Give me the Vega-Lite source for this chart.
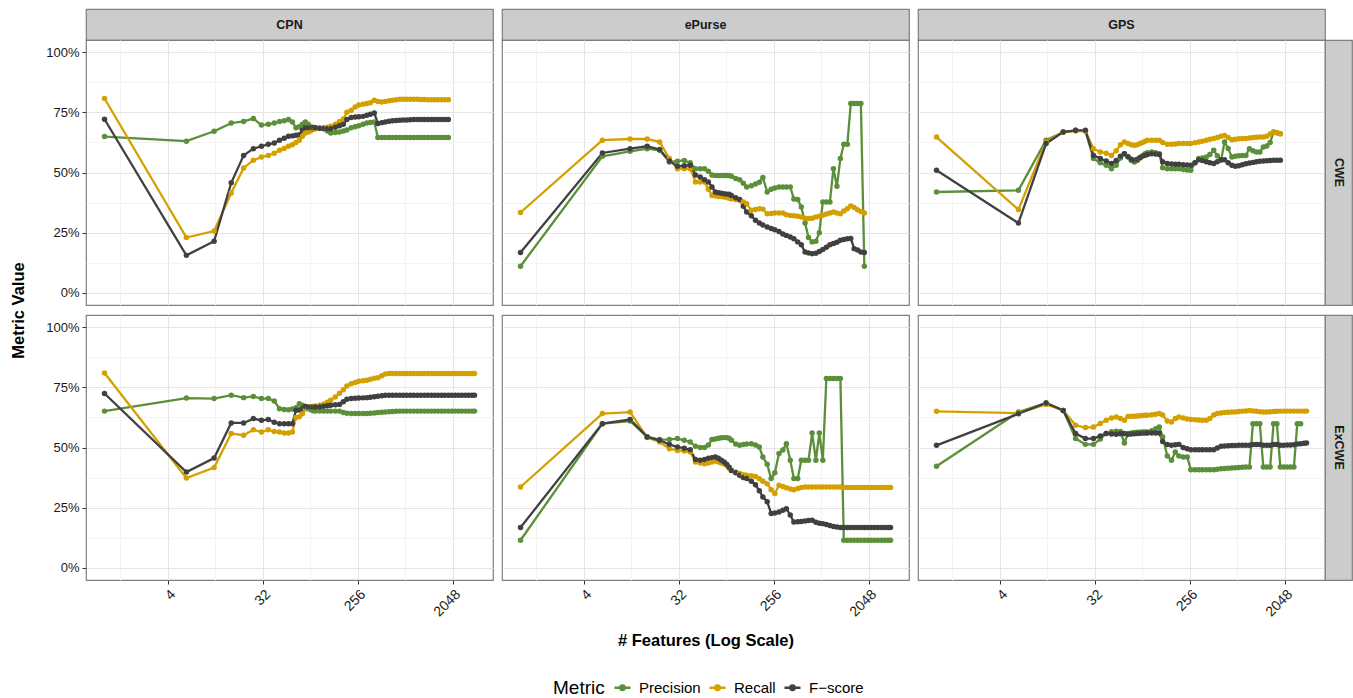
{
"$schema": "https://vega.github.io/schema/vega-lite/v6.json",
"padding": {"left": 10, "top": 8, "right": 0, "bottom": 0},
"config": {
  "font": "Liberation Sans",
  "view": {"stroke": "#7F7F7F", "strokeWidth": 1.2},
  "axis": {"domain": false, "labelFontSize": 13, "labelColor": "#1A1A1A", "tickColor": "#333333", "tickSize": 4, "tickWidth": 1, "labelPadding": 3, "titleFontSize": 16.5, "titleFontWeight": "bold", "titleColor": "#000000", "gridWidth": 1},
  "legend": {"direction": "horizontal", "titleOrient": "left", "titleFontSize": 19, "titleFontWeight": "normal", "titleColor": "#000000", "labelFontSize": 15, "labelColor": "#000000", "symbolType": "M-1.6,0L1.6,0M-0.45,0A0.45,0.45,0,1,1,0.45,0A0.45,0.45,0,1,1,-0.45,0", "symbolSize": 100, "symbolStrokeWidth": 2.3, "columnPadding": 3, "labelOffset": 9, "titlePadding": 10}
},
"datasets": {
"CPN_CWE": [
{"x":1,"P":0.649,"R":0.807,"F":0.721},{"x":6,"P":0.63,"R":0.23,"F":0.156},{"x":11,"P":0.671,"R":0.257,"F":0.215},{"x":16,"P":0.705,"R":0.415,"F":0.457},{"x":21,"P":0.712,"R":0.519,"F":0.571},{"x":26,"P":0.724,"R":0.551,"F":0.599},{"x":31,"P":0.697,"R":0.564,"F":0.609},{"x":36,"P":0.70,"R":0.571,"F":0.617},{"x":41,"P":0.705,"R":0.58,"F":0.622},{"x":46,"P":0.712,"R":0.592,"F":0.634},{"x":51,"P":0.715,"R":0.60,"F":0.642},{"x":56,"P":0.72,"R":0.609,"F":0.65},{"x":61,"P":0.71,"R":0.615,"F":0.652},{"x":66,"P":0.686,"R":0.625,"F":0.655},{"x":71,"P":0.69,"R":0.634,"F":0.657},{"x":76,"P":0.70,"R":0.65,"F":0.675},{"x":81,"P":0.71,"R":0.664,"F":0.686},{"x":86,"P":0.70,"R":0.668,"F":0.686},{"x":91,"P":0.69,"R":0.672,"F":0.686},{"x":96,"P":0.688,"R":0.68,"F":0.686},{"x":101,"P":0.686,"R":0.682,"F":0.686},{"x":111,"P":0.684,"R":0.684,"F":0.684},{"x":121,"P":0.682,"R":0.686,"F":0.683},{"x":131,"P":0.672,"R":0.688,"F":0.682},{"x":141,"P":0.664,"R":0.692,"F":0.682},{"x":156,"P":0.666,"R":0.70,"F":0.688},{"x":171,"P":0.668,"R":0.712,"F":0.694},{"x":186,"P":0.672,"R":0.722,"F":0.70},{"x":201,"P":0.676,"R":0.75,"F":0.72},{"x":221,"P":0.686,"R":0.758,"F":0.728},{"x":241,"P":0.69,"R":0.772,"F":0.73},{"x":261,"P":0.694,"R":0.78,"F":0.731},{"x":286,"P":0.70,"R":0.783,"F":0.733},{"x":311,"P":0.705,"R":0.786,"F":0.738},{"x":336,"P":0.708,"R":0.79,"F":0.742},{"x":366,"P":0.71,"R":0.80,"F":0.747},{"x":396,"P":0.645,"R":0.795,"F":0.703},{"x":431,"P":0.645,"R":0.793,"F":0.707},{"x":466,"P":0.645,"R":0.795,"F":0.71},{"x":506,"P":0.645,"R":0.798,"F":0.713},{"x":546,"P":0.645,"R":0.80,"F":0.715},{"x":591,"P":0.645,"R":0.802,"F":0.716},{"x":641,"P":0.645,"R":0.804,"F":0.717},{"x":691,"P":0.645,"R":0.804,"F":0.718},{"x":746,"P":0.645,"R":0.804,"F":0.718},{"x":806,"P":0.645,"R":0.804,"F":0.719},{"x":871,"P":0.645,"R":0.804,"F":0.72},{"x":941,"P":0.645,"R":0.804,"F":0.72},{"x":1016,"P":0.645,"R":0.803,"F":0.72},{"x":1096,"P":0.645,"R":0.803,"F":0.72},{"x":1181,"P":0.645,"R":0.802,"F":0.72},{"x":1276,"P":0.645,"R":0.802,"F":0.72},{"x":1376,"P":0.645,"R":0.802,"F":0.72},{"x":1481,"P":0.645,"R":0.802,"F":0.72},{"x":1596,"P":0.645,"R":0.802,"F":0.72},{"x":1716,"P":0.645,"R":0.802,"F":0.72},{"x":1851,"P":0.645,"R":0.802,"F":0.72}
],
"ePurse_CWE": [
{"x":1,"P":0.111,"R":0.334,"F":0.168},{"x":6,"P":0.567,"R":0.634,"F":0.581},{"x":11,"P":0.588,"R":0.639,"F":0.599},{"x":16,"P":0.599,"R":0.639,"F":0.609},{"x":21,"P":0.592,"R":0.627,"F":0.595},{"x":26,"P":0.544,"R":0.558,"F":0.548},{"x":31,"P":0.547,"R":0.516,"F":0.526},{"x":36,"P":0.55,"R":0.516,"F":0.528},{"x":41,"P":0.54,"R":0.516,"F":0.53},{"x":46,"P":0.516,"R":0.461,"F":0.49},{"x":51,"P":0.516,"R":0.461,"F":0.481},{"x":56,"P":0.516,"R":0.461,"F":0.47},{"x":61,"P":0.505,"R":0.43,"F":0.461},{"x":66,"P":0.49,"R":0.405,"F":0.44},{"x":71,"P":0.488,"R":0.403,"F":0.419},{"x":76,"P":0.488,"R":0.40,"F":0.416},{"x":81,"P":0.488,"R":0.40,"F":0.414},{"x":86,"P":0.488,"R":0.398,"F":0.412},{"x":91,"P":0.488,"R":0.396,"F":0.41},{"x":96,"P":0.488,"R":0.393,"F":0.41},{"x":101,"P":0.484,"R":0.39,"F":0.405},{"x":111,"P":0.475,"R":0.388,"F":0.395},{"x":121,"P":0.47,"R":0.385,"F":0.388},{"x":131,"P":0.455,"R":0.378,"F":0.36},{"x":141,"P":0.44,"R":0.37,"F":0.336},{"x":156,"P":0.445,"R":0.343,"F":0.32},{"x":171,"P":0.452,"R":0.346,"F":0.302},{"x":186,"P":0.46,"R":0.35,"F":0.29},{"x":201,"P":0.479,"R":0.348,"F":0.282},{"x":221,"P":0.419,"R":0.329,"F":0.274},{"x":241,"P":0.43,"R":0.33,"F":0.268},{"x":261,"P":0.436,"R":0.332,"F":0.262},{"x":286,"P":0.44,"R":0.332,"F":0.255},{"x":311,"P":0.44,"R":0.332,"F":0.245},{"x":336,"P":0.44,"R":0.325,"F":0.239},{"x":366,"P":0.44,"R":0.322,"F":0.232},{"x":396,"P":0.39,"R":0.32,"F":0.225},{"x":431,"P":0.388,"R":0.318,"F":0.212},{"x":466,"P":0.357,"R":0.315,"F":0.20},{"x":506,"P":0.29,"R":0.31,"F":0.17},{"x":546,"P":0.23,"R":0.309,"F":0.166},{"x":591,"P":0.212,"R":0.31,"F":0.163},{"x":641,"P":0.215,"R":0.315,"F":0.165},{"x":691,"P":0.25,"R":0.318,"F":0.172},{"x":746,"P":0.378,"R":0.323,"F":0.18},{"x":806,"P":0.378,"R":0.328,"F":0.19},{"x":871,"P":0.378,"R":0.332,"F":0.20},{"x":941,"P":0.516,"R":0.336,"F":0.205},{"x":1016,"P":0.443,"R":0.332,"F":0.21},{"x":1096,"P":0.558,"R":0.329,"F":0.219},{"x":1181,"P":0.617,"R":0.34,"F":0.222},{"x":1276,"P":0.617,"R":0.35,"F":0.225},{"x":1376,"P":0.786,"R":0.361,"F":0.226},{"x":1481,"P":0.786,"R":0.355,"F":0.184},{"x":1596,"P":0.786,"R":0.345,"F":0.178},{"x":1716,"P":0.786,"R":0.338,"F":0.17},{"x":1851,"P":0.111,"R":0.332,"F":0.168}
],
"GPS_CWE": [
{"x":1,"P":0.419,"R":0.647,"F":0.509},{"x":6,"P":0.426,"R":0.346,"F":0.29},{"x":11,"P":0.634,"R":0.627,"F":0.62},{"x":16,"P":0.668,"R":0.668,"F":0.668},{"x":21,"P":0.675,"R":0.672,"F":0.675},{"x":26,"P":0.672,"R":0.672,"F":0.675},{"x":31,"P":0.558,"R":0.599,"F":0.571},{"x":36,"P":0.54,"R":0.585,"F":0.558},{"x":41,"P":0.53,"R":0.58,"F":0.548},{"x":46,"P":0.516,"R":0.571,"F":0.537},{"x":51,"P":0.53,"R":0.59,"F":0.55},{"x":56,"P":0.56,"R":0.615,"F":0.568},{"x":61,"P":0.578,"R":0.627,"F":0.578},{"x":66,"P":0.565,"R":0.62,"F":0.565},{"x":71,"P":0.55,"R":0.615,"F":0.555},{"x":76,"P":0.544,"R":0.613,"F":0.551},{"x":81,"P":0.55,"R":0.615,"F":0.555},{"x":86,"P":0.56,"R":0.62,"F":0.562},{"x":91,"P":0.57,"R":0.625,"F":0.568},{"x":96,"P":0.578,"R":0.63,"F":0.572},{"x":101,"P":0.582,"R":0.634,"F":0.575},{"x":111,"P":0.585,"R":0.634,"F":0.578},{"x":121,"P":0.582,"R":0.634,"F":0.577},{"x":131,"P":0.578,"R":0.634,"F":0.575},{"x":141,"P":0.52,"R":0.625,"F":0.545},{"x":156,"P":0.516,"R":0.617,"F":0.537},{"x":171,"P":0.516,"R":0.617,"F":0.535},{"x":186,"P":0.516,"R":0.618,"F":0.534},{"x":201,"P":0.516,"R":0.62,"F":0.534},{"x":221,"P":0.512,"R":0.62,"F":0.532},{"x":241,"P":0.51,"R":0.62,"F":0.531},{"x":261,"P":0.509,"R":0.62,"F":0.53},{"x":286,"P":0.54,"R":0.624,"F":0.54},{"x":311,"P":0.558,"R":0.627,"F":0.553},{"x":336,"P":0.56,"R":0.63,"F":0.55},{"x":366,"P":0.564,"R":0.634,"F":0.545},{"x":396,"P":0.575,"R":0.638,"F":0.54},{"x":431,"P":0.592,"R":0.641,"F":0.537},{"x":466,"P":0.57,"R":0.645,"F":0.545},{"x":506,"P":0.551,"R":0.65,"F":0.553},{"x":546,"P":0.627,"R":0.654,"F":0.553},{"x":591,"P":0.60,"R":0.645,"F":0.54},{"x":641,"P":0.564,"R":0.636,"F":0.53},{"x":691,"P":0.567,"R":0.638,"F":0.526},{"x":746,"P":0.57,"R":0.64,"F":0.528},{"x":806,"P":0.571,"R":0.641,"F":0.532},{"x":871,"P":0.571,"R":0.641,"F":0.536},{"x":941,"P":0.599,"R":0.643,"F":0.539},{"x":1016,"P":0.59,"R":0.645,"F":0.542},{"x":1096,"P":0.585,"R":0.646,"F":0.545},{"x":1181,"P":0.585,"R":0.647,"F":0.547},{"x":1276,"P":0.606,"R":0.647,"F":0.548},{"x":1376,"P":0.61,"R":0.65,"F":0.549},{"x":1481,"P":0.625,"R":0.66,"F":0.55},{"x":1596,"P":0.668,"R":0.668,"F":0.551},{"x":1716,"P":0.665,"R":0.665,"F":0.551},{"x":1851,"P":0.661,"R":0.661,"F":0.551}
],
"CPN_ExCWE": [
{"x":1,"P":0.651,"R":0.809,"F":0.724},{"x":6,"P":0.705,"R":0.373,"F":0.398},{"x":11,"P":0.703,"R":0.417,"F":0.456},{"x":16,"P":0.717,"R":0.558,"F":0.602},{"x":21,"P":0.707,"R":0.551,"F":0.602},{"x":26,"P":0.712,"R":0.574,"F":0.62},{"x":31,"P":0.703,"R":0.564,"F":0.613},{"x":36,"P":0.703,"R":0.574,"F":0.616},{"x":41,"P":0.693,"R":0.566,"F":0.605},{"x":46,"P":0.661,"R":0.564,"F":0.599},{"x":51,"P":0.658,"R":0.56,"F":0.599},{"x":56,"P":0.657,"R":0.56,"F":0.599},{"x":61,"P":0.66,"R":0.564,"F":0.599},{"x":66,"P":0.665,"R":0.625,"F":0.655},{"x":71,"P":0.682,"R":0.628,"F":0.656},{"x":76,"P":0.675,"R":0.64,"F":0.662},{"x":81,"P":0.668,"R":0.66,"F":0.67},{"x":86,"P":0.662,"R":0.665,"F":0.668},{"x":91,"P":0.657,"R":0.668,"F":0.668},{"x":96,"P":0.653,"R":0.67,"F":0.668},{"x":101,"P":0.651,"R":0.672,"F":0.668},{"x":111,"P":0.651,"R":0.675,"F":0.668},{"x":121,"P":0.651,"R":0.68,"F":0.671},{"x":131,"P":0.651,"R":0.688,"F":0.673},{"x":141,"P":0.651,"R":0.696,"F":0.675},{"x":156,"P":0.651,"R":0.71,"F":0.677},{"x":171,"P":0.651,"R":0.725,"F":0.679},{"x":186,"P":0.645,"R":0.74,"F":0.69},{"x":201,"P":0.642,"R":0.755,"F":0.70},{"x":221,"P":0.641,"R":0.765,"F":0.703},{"x":241,"P":0.641,"R":0.77,"F":0.704},{"x":261,"P":0.641,"R":0.775,"F":0.705},{"x":286,"P":0.641,"R":0.777,"F":0.706},{"x":311,"P":0.641,"R":0.779,"F":0.707},{"x":336,"P":0.642,"R":0.783,"F":0.709},{"x":366,"P":0.643,"R":0.787,"F":0.711},{"x":396,"P":0.645,"R":0.79,"F":0.713},{"x":431,"P":0.646,"R":0.798,"F":0.715},{"x":466,"P":0.647,"R":0.805,"F":0.717},{"x":506,"P":0.648,"R":0.807,"F":0.717},{"x":546,"P":0.649,"R":0.807,"F":0.717},{"x":591,"P":0.65,"R":0.807,"F":0.717},{"x":641,"P":0.651,"R":0.807,"F":0.717},{"x":691,"P":0.651,"R":0.807,"F":0.717},{"x":746,"P":0.651,"R":0.807,"F":0.717},{"x":806,"P":0.651,"R":0.807,"F":0.717},{"x":871,"P":0.651,"R":0.807,"F":0.717},{"x":941,"P":0.651,"R":0.807,"F":0.717},{"x":1016,"P":0.651,"R":0.807,"F":0.717},{"x":1096,"P":0.651,"R":0.807,"F":0.717},{"x":1181,"P":0.651,"R":0.807,"F":0.717},{"x":1276,"P":0.651,"R":0.807,"F":0.717},{"x":1376,"P":0.651,"R":0.807,"F":0.717},{"x":1481,"P":0.651,"R":0.807,"F":0.717},{"x":1596,"P":0.651,"R":0.807,"F":0.717},{"x":1716,"P":0.651,"R":0.807,"F":0.717},{"x":1851,"P":0.651,"R":0.807,"F":0.717},{"x":1991,"P":0.651,"R":0.807,"F":0.717},{"x":2146,"P":0.651,"R":0.807,"F":0.717},{"x":2311,"P":0.651,"R":0.807,"F":0.717},{"x":2491,"P":0.651,"R":0.807,"F":0.717},{"x":2681,"P":0.651,"R":0.807,"F":0.717},{"x":2886,"P":0.651,"R":0.807,"F":0.717},{"x":3106,"P":0.651,"R":0.807,"F":0.717},{"x":3281,"P":0.651,"R":0.807,"F":0.717}
],
"ePurse_ExCWE": [
{"x":1,"P":0.115,"R":0.336,"F":0.168},{"x":6,"P":0.599,"R":0.641,"F":0.599},{"x":11,"P":0.61,"R":0.647,"F":0.616},{"x":16,"P":0.544,"R":0.541,"F":0.544},{"x":21,"P":0.533,"R":0.523,"F":0.53},{"x":26,"P":0.533,"R":0.495,"F":0.513},{"x":31,"P":0.537,"R":0.488,"F":0.502},{"x":36,"P":0.53,"R":0.485,"F":0.497},{"x":41,"P":0.523,"R":0.481,"F":0.491},{"x":46,"P":0.505,"R":0.44,"F":0.45},{"x":51,"P":0.50,"R":0.436,"F":0.447},{"x":56,"P":0.50,"R":0.433,"F":0.45},{"x":61,"P":0.51,"R":0.436,"F":0.455},{"x":66,"P":0.533,"R":0.44,"F":0.458},{"x":71,"P":0.535,"R":0.444,"F":0.461},{"x":76,"P":0.538,"R":0.44,"F":0.455},{"x":81,"P":0.54,"R":0.436,"F":0.447},{"x":86,"P":0.541,"R":0.433,"F":0.44},{"x":91,"P":0.541,"R":0.425,"F":0.43},{"x":96,"P":0.538,"R":0.415,"F":0.418},{"x":101,"P":0.53,"R":0.405,"F":0.405},{"x":111,"P":0.515,"R":0.398,"F":0.395},{"x":121,"P":0.509,"R":0.392,"F":0.385},{"x":131,"P":0.512,"R":0.387,"F":0.375},{"x":141,"P":0.515,"R":0.385,"F":0.371},{"x":156,"P":0.516,"R":0.383,"F":0.36},{"x":171,"P":0.51,"R":0.38,"F":0.345},{"x":186,"P":0.502,"R":0.37,"F":0.32},{"x":201,"P":0.461,"R":0.36,"F":0.295},{"x":221,"P":0.43,"R":0.35,"F":0.275},{"x":241,"P":0.371,"R":0.325,"F":0.226},{"x":261,"P":0.395,"R":0.309,"F":0.228},{"x":286,"P":0.475,"R":0.343,"F":0.232},{"x":311,"P":0.49,"R":0.338,"F":0.24},{"x":336,"P":0.516,"R":0.333,"F":0.246},{"x":366,"P":0.447,"R":0.328,"F":0.22},{"x":396,"P":0.371,"R":0.325,"F":0.191},{"x":431,"P":0.371,"R":0.33,"F":0.192},{"x":466,"P":0.447,"R":0.334,"F":0.193},{"x":506,"P":0.447,"R":0.336,"F":0.195},{"x":546,"P":0.447,"R":0.336,"F":0.197},{"x":591,"P":0.56,"R":0.336,"F":0.198},{"x":641,"P":0.447,"R":0.336,"F":0.19},{"x":691,"P":0.56,"R":0.336,"F":0.186},{"x":746,"P":0.447,"R":0.336,"F":0.184},{"x":806,"P":0.786,"R":0.336,"F":0.18},{"x":871,"P":0.786,"R":0.336,"F":0.176},{"x":941,"P":0.786,"R":0.336,"F":0.172},{"x":1016,"P":0.786,"R":0.336,"F":0.17},{"x":1096,"P":0.786,"R":0.336,"F":0.168},{"x":1181,"P":0.115,"R":0.334,"F":0.168},{"x":1276,"P":0.115,"R":0.334,"F":0.168},{"x":1376,"P":0.115,"R":0.334,"F":0.168},{"x":1481,"P":0.115,"R":0.334,"F":0.168},{"x":1596,"P":0.115,"R":0.334,"F":0.168},{"x":1716,"P":0.115,"R":0.334,"F":0.168},{"x":1851,"P":0.115,"R":0.334,"F":0.168},{"x":1991,"P":0.115,"R":0.334,"F":0.168},{"x":2146,"P":0.115,"R":0.334,"F":0.168},{"x":2311,"P":0.115,"R":0.334,"F":0.168},{"x":2491,"P":0.115,"R":0.334,"F":0.168},{"x":2681,"P":0.115,"R":0.334,"F":0.168},{"x":2886,"P":0.115,"R":0.334,"F":0.168},{"x":3106,"P":0.115,"R":0.334,"F":0.168},{"x":3281,"P":0.115,"R":0.334,"F":0.168}
],
"GPS_ExCWE": [
{"x":1,"P":0.422,"R":0.65,"F":0.509},{"x":6,"P":0.647,"R":0.643,"F":0.64},{"x":11,"P":0.685,"R":0.679,"F":0.685},{"x":16,"P":0.654,"R":0.654,"F":0.654},{"x":21,"P":0.537,"R":0.592,"F":0.558},{"x":26,"P":0.513,"R":0.583,"F":0.537},{"x":31,"P":0.513,"R":0.585,"F":0.537},{"x":36,"P":0.535,"R":0.60,"F":0.548},{"x":41,"P":0.558,"R":0.613,"F":0.558},{"x":46,"P":0.565,"R":0.622,"F":0.556},{"x":51,"P":0.568,"R":0.627,"F":0.555},{"x":56,"P":0.566,"R":0.62,"F":0.557},{"x":61,"P":0.519,"R":0.613,"F":0.558},{"x":66,"P":0.558,"R":0.629,"F":0.555},{"x":71,"P":0.56,"R":0.63,"F":0.556},{"x":76,"P":0.562,"R":0.63,"F":0.557},{"x":81,"P":0.563,"R":0.631,"F":0.558},{"x":86,"P":0.563,"R":0.632,"F":0.559},{"x":91,"P":0.564,"R":0.633,"F":0.56},{"x":96,"P":0.564,"R":0.634,"F":0.56},{"x":101,"P":0.564,"R":0.634,"F":0.56},{"x":111,"P":0.57,"R":0.636,"F":0.56},{"x":121,"P":0.578,"R":0.638,"F":0.56},{"x":131,"P":0.585,"R":0.641,"F":0.56},{"x":141,"P":0.544,"R":0.635,"F":0.525},{"x":156,"P":0.465,"R":0.61,"F":0.512},{"x":171,"P":0.447,"R":0.606,"F":0.509},{"x":186,"P":0.481,"R":0.62,"F":0.511},{"x":201,"P":0.465,"R":0.627,"F":0.513},{"x":221,"P":0.461,"R":0.622,"F":0.50},{"x":241,"P":0.461,"R":0.618,"F":0.495},{"x":261,"P":0.408,"R":0.616,"F":0.491},{"x":286,"P":0.408,"R":0.615,"F":0.491},{"x":311,"P":0.408,"R":0.614,"F":0.491},{"x":336,"P":0.408,"R":0.613,"F":0.491},{"x":366,"P":0.408,"R":0.613,"F":0.491},{"x":396,"P":0.408,"R":0.62,"F":0.491},{"x":431,"P":0.408,"R":0.635,"F":0.491},{"x":466,"P":0.41,"R":0.641,"F":0.498},{"x":506,"P":0.412,"R":0.643,"F":0.505},{"x":546,"P":0.413,"R":0.645,"F":0.506},{"x":591,"P":0.414,"R":0.646,"F":0.507},{"x":641,"P":0.415,"R":0.647,"F":0.508},{"x":691,"P":0.416,"R":0.647,"F":0.508},{"x":746,"P":0.417,"R":0.649,"F":0.509},{"x":806,"P":0.418,"R":0.651,"F":0.509},{"x":871,"P":0.419,"R":0.652,"F":0.509},{"x":941,"P":0.419,"R":0.654,"F":0.509},{"x":1016,"P":0.599,"R":0.652,"F":0.512},{"x":1096,"P":0.599,"R":0.65,"F":0.512},{"x":1181,"P":0.599,"R":0.648,"F":0.512},{"x":1276,"P":0.419,"R":0.647,"F":0.509},{"x":1376,"P":0.419,"R":0.647,"F":0.509},{"x":1481,"P":0.419,"R":0.648,"F":0.509},{"x":1596,"P":0.599,"R":0.649,"F":0.512},{"x":1716,"P":0.599,"R":0.65,"F":0.512},{"x":1851,"P":0.419,"R":0.651,"F":0.509},{"x":1991,"P":0.419,"R":0.651,"F":0.509},{"x":2146,"P":0.419,"R":0.651,"F":0.51},{"x":2311,"P":0.419,"R":0.651,"F":0.51},{"x":2491,"P":0.419,"R":0.651,"F":0.511},{"x":2681,"P":0.599,"R":0.651,"F":0.515},{"x":2886,"P":0.599,"R":0.651,"F":0.516},{"x":3106,"R":0.651,"F":0.518},{"x":3281,"R":0.651,"F":0.519}
]
},
"columns": 6,
"align": "each",
"bounds": "flush",
"spacing": 0,
"concat": [
 {"data": {"values": [{"t": "CPN"}]}, "width": 407, "height": 31, "view": {"fill": "#CCCCCC", "stroke": "#7F7F7F", "strokeWidth": 1.2}, "mark": {"type": "text", "fontSize": 12.5, "fontWeight": "bold", "color": "#1A1A1A"}, "encoding": {"text": {"field": "t"}}},
 {"data": {"values": [{"t": ""}]}, "width": 9, "height": 10, "view": {"stroke": null, "fill": null}, "mark": {"type": "text"}, "encoding": {"text": {"field": "t"}}},
 {"data": {"values": [{"t": "ePurse"}]}, "width": 407, "height": 31, "view": {"fill": "#CCCCCC", "stroke": "#7F7F7F", "strokeWidth": 1.2}, "mark": {"type": "text", "fontSize": 12.5, "fontWeight": "bold", "color": "#1A1A1A"}, "encoding": {"text": {"field": "t"}}},
 {"data": {"values": [{"t": ""}]}, "width": 9, "height": 10, "view": {"stroke": null, "fill": null}, "mark": {"type": "text"}, "encoding": {"text": {"field": "t"}}},
 {"data": {"values": [{"t": "GPS"}]}, "width": 407, "height": 31, "view": {"fill": "#CCCCCC", "stroke": "#7F7F7F", "strokeWidth": 1.2}, "mark": {"type": "text", "fontSize": 12.5, "fontWeight": "bold", "color": "#1A1A1A"}, "encoding": {"text": {"field": "t"}}},
 {"data": {"values": [{"t": ""}]}, "width": 9, "height": 10, "view": {"stroke": null, "fill": null}, "mark": {"type": "text"}, "encoding": {"text": {"field": "t"}}},

 {"data": {"name": "CPN_CWE"}, "width": 407, "height": 265, "transform": [{"fold": ["P","R","F"], "as": ["m","v"]}],
  "mark": {"type": "line", "strokeWidth": 2.3, "point": {"filled": true, "size": 30, "opacity": 1}},
  "encoding": {
    "x": {"field": "x", "type": "quantitative", "scale": {"type": "log", "base": 2, "domain": [0.667, 4918], "nice": false}, "axis": {"values": [1.41421356, 4, 11.3137085, 32, 90.50966799, 256, 724.07734394, 2048], "labels": false, "ticks": false, "title": null, "gridColor": {"condition": {"test": "indexof([4,32,256,2048], datum.value) >= 0", "value": "#E5E5E5"}, "value": "#F3F3F3"}}},
    "y": {"field": "v", "type": "quantitative", "scale": {"domain": [-0.05, 1.05], "nice": false, "zero": false}, "axis": {"values": [0,0.125,0.25,0.375,0.5,0.625,0.75,0.875,1], "format": ".0%", "labelExpr": "(datum.value*4)%1==0 ? datum.label : ''", "labelOverlap": false, "labelFlush": false, "tickOpacity": {"condition": {"test": "(datum.value*4)%1==0", "value": 1}, "value": 0}, "gridColor": {"condition": {"test": "(datum.value*4)%1==0", "value": "#E5E5E5"}, "value": "#F3F3F3"}, "title": "Metric Value", "titleY": 270, "titlePadding": 19}},
    "color": {"field": "m", "type": "nominal", "title": "Metric", "scale": {"domain": ["P","R","F"], "range": ["#5B8F3A","#D4A000","#404040"]}, "legend": {"orient": "none", "legendX": 467, "legendY": 671, "labelExpr": "datum.label=='P' ? 'Precision' : datum.label=='R' ? 'Recall' : 'F−score'"}}
  }},
 {"data": {"values": [{"t": ""}]}, "width": 9, "height": 10, "view": {"stroke": null, "fill": null}, "mark": {"type": "text"}, "encoding": {"text": {"field": "t"}}},
 {"data": {"name": "ePurse_CWE"}, "width": 407, "height": 265, "transform": [{"fold": ["P","R","F"], "as": ["m","v"]}],
  "mark": {"type": "line", "strokeWidth": 2.3, "point": {"filled": true, "size": 30, "opacity": 1}},
  "encoding": {
    "x": {"field": "x", "type": "quantitative", "scale": {"type": "log", "base": 2, "domain": [0.667, 4918], "nice": false}, "axis": {"values": [1.41421356, 4, 11.3137085, 32, 90.50966799, 256, 724.07734394, 2048], "labels": false, "ticks": false, "title": null, "gridColor": {"condition": {"test": "indexof([4,32,256,2048], datum.value) >= 0", "value": "#E5E5E5"}, "value": "#F3F3F3"}}},
    "y": {"field": "v", "type": "quantitative", "scale": {"domain": [-0.05, 1.05], "nice": false, "zero": false}, "axis": {"values": [0,0.125,0.25,0.375,0.5,0.625,0.75,0.875,1], "labels": false, "ticks": false, "title": null, "gridColor": {"condition": {"test": "(datum.value*4)%1==0", "value": "#E5E5E5"}, "value": "#F3F3F3"}}},
    "color": {"field": "m", "type": "nominal", "title": "Metric", "scale": {"domain": ["P","R","F"], "range": ["#5B8F3A","#D4A000","#404040"]}, "legend": {"orient": "none", "legendX": 467, "legendY": 671, "labelExpr": "datum.label=='P' ? 'Precision' : datum.label=='R' ? 'Recall' : 'F−score'"}}
  }},
 {"data": {"values": [{"t": ""}]}, "width": 9, "height": 10, "view": {"stroke": null, "fill": null}, "mark": {"type": "text"}, "encoding": {"text": {"field": "t"}}},
 {"data": {"name": "GPS_CWE"}, "width": 407, "height": 265, "transform": [{"fold": ["P","R","F"], "as": ["m","v"]}],
  "mark": {"type": "line", "strokeWidth": 2.3, "point": {"filled": true, "size": 30, "opacity": 1}},
  "encoding": {
    "x": {"field": "x", "type": "quantitative", "scale": {"type": "log", "base": 2, "domain": [0.667, 4918], "nice": false}, "axis": {"values": [1.41421356, 4, 11.3137085, 32, 90.50966799, 256, 724.07734394, 2048], "labels": false, "ticks": false, "title": null, "gridColor": {"condition": {"test": "indexof([4,32,256,2048], datum.value) >= 0", "value": "#E5E5E5"}, "value": "#F3F3F3"}}},
    "y": {"field": "v", "type": "quantitative", "scale": {"domain": [-0.05, 1.05], "nice": false, "zero": false}, "axis": {"values": [0,0.125,0.25,0.375,0.5,0.625,0.75,0.875,1], "labels": false, "ticks": false, "title": null, "gridColor": {"condition": {"test": "(datum.value*4)%1==0", "value": "#E5E5E5"}, "value": "#F3F3F3"}}},
    "color": {"field": "m", "type": "nominal", "title": "Metric", "scale": {"domain": ["P","R","F"], "range": ["#5B8F3A","#D4A000","#404040"]}, "legend": {"orient": "none", "legendX": 467, "legendY": 671, "labelExpr": "datum.label=='P' ? 'Precision' : datum.label=='R' ? 'Recall' : 'F−score'"}}
  }},
 {"data": {"values": [{"t": "CWE"}]}, "width": 27, "height": 265, "view": {"fill": "#CCCCCC", "stroke": "#7F7F7F", "strokeWidth": 1.2}, "mark": {"type": "text", "fontSize": 12.5, "fontWeight": "bold", "color": "#1A1A1A", "angle": 90}, "encoding": {"text": {"field": "t"}}},

 {"data": {"values": [{"t": ""}]}, "width": 9, "height": 10, "view": {"stroke": null, "fill": null}, "mark": {"type": "text"}, "encoding": {"text": {"field": "t"}}},
 {"data": {"values": [{"t": ""}]}, "width": 9, "height": 10, "view": {"stroke": null, "fill": null}, "mark": {"type": "text"}, "encoding": {"text": {"field": "t"}}},
 {"data": {"values": [{"t": ""}]}, "width": 9, "height": 10, "view": {"stroke": null, "fill": null}, "mark": {"type": "text"}, "encoding": {"text": {"field": "t"}}},
 {"data": {"values": [{"t": ""}]}, "width": 9, "height": 10, "view": {"stroke": null, "fill": null}, "mark": {"type": "text"}, "encoding": {"text": {"field": "t"}}},
 {"data": {"values": [{"t": ""}]}, "width": 9, "height": 10, "view": {"stroke": null, "fill": null}, "mark": {"type": "text"}, "encoding": {"text": {"field": "t"}}},
 {"data": {"values": [{"t": ""}]}, "width": 9, "height": 10, "view": {"stroke": null, "fill": null}, "mark": {"type": "text"}, "encoding": {"text": {"field": "t"}}},

 {"data": {"name": "CPN_ExCWE"}, "width": 407, "height": 265, "transform": [{"fold": ["P","R","F"], "as": ["m","v"]}],
  "mark": {"type": "line", "strokeWidth": 2.3, "point": {"filled": true, "size": 30, "opacity": 1}},
  "encoding": {
    "x": {"field": "x", "type": "quantitative", "scale": {"type": "log", "base": 2, "domain": [0.667, 4918], "nice": false}, "axis": {"values": [1.41421356, 4, 11.3137085, 32, 90.50966799, 256, 724.07734394, 2048], "format": "d", "labelExpr": "indexof([4,32,256,2048], datum.value) >= 0 ? datum.label : ''", "labelAngle": -45, "labelFontSize": 14, "labelOverlap": false, "labelFlush": false, "tickOpacity": {"condition": {"test": "indexof([4,32,256,2048], datum.value) >= 0", "value": 1}, "value": 0}, "title": null, "gridColor": {"condition": {"test": "indexof([4,32,256,2048], datum.value) >= 0", "value": "#E5E5E5"}, "value": "#F3F3F3"}}},
    "y": {"field": "v", "type": "quantitative", "scale": {"domain": [-0.05, 1.05], "nice": false, "zero": false}, "axis": {"values": [0,0.125,0.25,0.375,0.5,0.625,0.75,0.875,1], "format": ".0%", "labelExpr": "(datum.value*4)%1==0 ? datum.label : ''", "labelOverlap": false, "labelFlush": false, "tickOpacity": {"condition": {"test": "(datum.value*4)%1==0", "value": 1}, "value": 0}, "gridColor": {"condition": {"test": "(datum.value*4)%1==0", "value": "#E5E5E5"}, "value": "#F3F3F3"}, "title": null}},
    "color": {"field": "m", "type": "nominal", "title": "Metric", "scale": {"domain": ["P","R","F"], "range": ["#5B8F3A","#D4A000","#404040"]}, "legend": {"orient": "none", "legendX": 467, "legendY": 671, "labelExpr": "datum.label=='P' ? 'Precision' : datum.label=='R' ? 'Recall' : 'F−score'"}}
  }},
 {"data": {"values": [{"t": ""}]}, "width": 9, "height": 10, "view": {"stroke": null, "fill": null}, "mark": {"type": "text"}, "encoding": {"text": {"field": "t"}}},
 {"data": {"name": "ePurse_ExCWE"}, "width": 407, "height": 265, "transform": [{"fold": ["P","R","F"], "as": ["m","v"]}],
  "mark": {"type": "line", "strokeWidth": 2.3, "point": {"filled": true, "size": 30, "opacity": 1}},
  "encoding": {
    "x": {"field": "x", "type": "quantitative", "scale": {"type": "log", "base": 2, "domain": [0.667, 4918], "nice": false}, "axis": {"values": [1.41421356, 4, 11.3137085, 32, 90.50966799, 256, 724.07734394, 2048], "format": "d", "labelExpr": "indexof([4,32,256,2048], datum.value) >= 0 ? datum.label : ''", "labelAngle": -45, "labelFontSize": 14, "labelOverlap": false, "labelFlush": false, "tickOpacity": {"condition": {"test": "indexof([4,32,256,2048], datum.value) >= 0", "value": 1}, "value": 0}, "title": "# Features (Log Scale)", "titlePadding": 14, "gridColor": {"condition": {"test": "indexof([4,32,256,2048], datum.value) >= 0", "value": "#E5E5E5"}, "value": "#F3F3F3"}}},
    "y": {"field": "v", "type": "quantitative", "scale": {"domain": [-0.05, 1.05], "nice": false, "zero": false}, "axis": {"values": [0,0.125,0.25,0.375,0.5,0.625,0.75,0.875,1], "labels": false, "ticks": false, "title": null, "gridColor": {"condition": {"test": "(datum.value*4)%1==0", "value": "#E5E5E5"}, "value": "#F3F3F3"}}},
    "color": {"field": "m", "type": "nominal", "title": "Metric", "scale": {"domain": ["P","R","F"], "range": ["#5B8F3A","#D4A000","#404040"]}, "legend": {"orient": "none", "legendX": 467, "legendY": 671, "labelExpr": "datum.label=='P' ? 'Precision' : datum.label=='R' ? 'Recall' : 'F−score'"}}
  }},
 {"data": {"values": [{"t": ""}]}, "width": 9, "height": 10, "view": {"stroke": null, "fill": null}, "mark": {"type": "text"}, "encoding": {"text": {"field": "t"}}},
 {"data": {"name": "GPS_ExCWE"}, "width": 407, "height": 265, "transform": [{"fold": ["P","R","F"], "as": ["m","v"]}],
  "mark": {"type": "line", "strokeWidth": 2.3, "point": {"filled": true, "size": 30, "opacity": 1}},
  "encoding": {
    "x": {"field": "x", "type": "quantitative", "scale": {"type": "log", "base": 2, "domain": [0.667, 4918], "nice": false}, "axis": {"values": [1.41421356, 4, 11.3137085, 32, 90.50966799, 256, 724.07734394, 2048], "format": "d", "labelExpr": "indexof([4,32,256,2048], datum.value) >= 0 ? datum.label : ''", "labelAngle": -45, "labelFontSize": 14, "labelOverlap": false, "labelFlush": false, "tickOpacity": {"condition": {"test": "indexof([4,32,256,2048], datum.value) >= 0", "value": 1}, "value": 0}, "title": null, "gridColor": {"condition": {"test": "indexof([4,32,256,2048], datum.value) >= 0", "value": "#E5E5E5"}, "value": "#F3F3F3"}}},
    "y": {"field": "v", "type": "quantitative", "scale": {"domain": [-0.05, 1.05], "nice": false, "zero": false}, "axis": {"values": [0,0.125,0.25,0.375,0.5,0.625,0.75,0.875,1], "labels": false, "ticks": false, "title": null, "gridColor": {"condition": {"test": "(datum.value*4)%1==0", "value": "#E5E5E5"}, "value": "#F3F3F3"}}},
    "color": {"field": "m", "type": "nominal", "title": "Metric", "scale": {"domain": ["P","R","F"], "range": ["#5B8F3A","#D4A000","#404040"]}, "legend": {"orient": "none", "legendX": 467, "legendY": 671, "labelExpr": "datum.label=='P' ? 'Precision' : datum.label=='R' ? 'Recall' : 'F−score'"}}
  }},
 {"data": {"values": [{"t": "ExCWE"}]}, "width": 27, "height": 265, "view": {"fill": "#CCCCCC", "stroke": "#7F7F7F", "strokeWidth": 1.2}, "mark": {"type": "text", "fontSize": 12.5, "fontWeight": "bold", "color": "#1A1A1A", "angle": 90}, "encoding": {"text": {"field": "t"}}}
]
}
